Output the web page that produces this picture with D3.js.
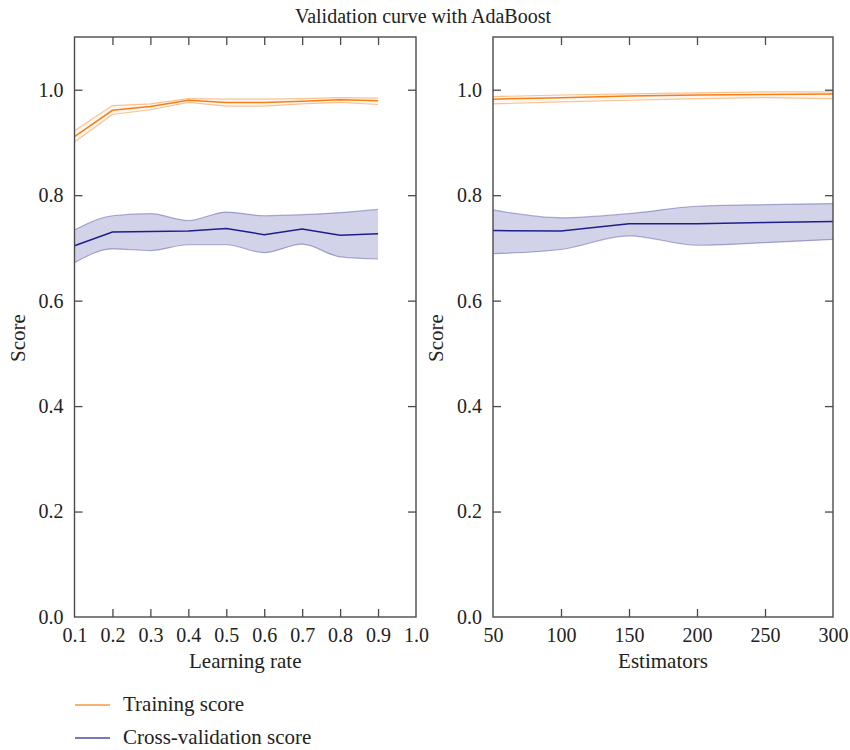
<html>
  <head>
    <style>
      body { margin: 0; background: #fff; }
      text { font-family: "Liberation Serif", "DejaVu Serif", serif; fill: #222; }
      .frame { fill: none; stroke: #4a4a4a; stroke-width: 1.4px; }
      .axis path { display: none; }
      .axis line { stroke: #4a4a4a; stroke-width: 1.3px; }
      .axis text { font-size: 20px; fill: #222; font-family: "Liberation Serif", serif; }
    </style>
  </head>
  <body>
    <script src="https://d3js.org/d3.v7.min.js"></script>
    <script>
    var width = 850, height = 750;

    // learning rate panel
    var lrRates = [0.1, 0.2, 0.3, 0.4, 0.5, 0.6, 0.7, 0.8, 0.9];
    var lrTrainMean = [0.911, 0.961, 0.968, 0.980, 0.976, 0.976, 0.978, 0.981, 0.979];
    var lrTrainUp   = [0.922, 0.970, 0.973, 0.983, 0.982, 0.982, 0.983, 0.985, 0.984];
    var lrTrainLow  = [0.901, 0.953, 0.962, 0.976, 0.969, 0.969, 0.973, 0.976, 0.972];
    var lrCvMean = [0.704, 0.730, 0.731, 0.732, 0.737, 0.725, 0.736, 0.724, 0.727];
    var lrCvUp   = [0.734, 0.761, 0.765, 0.752, 0.768, 0.761, 0.763, 0.767, 0.773];
    var lrCvLow  = [0.672, 0.698, 0.695, 0.706, 0.706, 0.691, 0.707, 0.683, 0.679];

    // estimators panel
    var nEstimators = [50, 100, 150, 200, 250, 300];
    var neTrainMean = [0.982, 0.985, 0.988, 0.990, 0.991, 0.992];
    var neTrainUp   = [0.987, 0.990, 0.992, 0.994, 0.996, 0.996];
    var neTrainLow  = [0.973, 0.977, 0.980, 0.983, 0.985, 0.983];
    var neCvMean = [0.733, 0.732, 0.746, 0.746, 0.748, 0.750];
    var neCvUp   = [0.772, 0.757, 0.765, 0.779, 0.782, 0.784];
    var neCvLow  = [0.689, 0.697, 0.723, 0.705, 0.710, 0.716];

    var lrTicks = [0.1, 0.2, 0.3, 0.4, 0.5, 0.6, 0.7, 0.8, 0.9, 1.0];
    var neTicks = [50, 100, 150, 200, 250, 300];
    var scoreTicks = [0.0, 0.2, 0.4, 0.6, 0.8, 1.0];

    var trainColor = "#f57f17", cvColor = "#1f1f8c";

    var svg = d3.select("body").append("svg")
        .attr("width", width).attr("height", height);

    var plotTop = 37, plotBottom = 617;
    var y = d3.scaleLinear().domain([0, 1.1]).range([plotBottom, plotTop]);

    svg.append("text")
       .attr("x", 423).attr("y", 23)
       .style("text-anchor", "middle").style("font-size", "20px")
       .text("Validation curve with AdaBoost");

    function panel(left, right, xs, xDomain, xTicks, fmt, xLabel,
                   trMean, trUp, trLow, cvMean, cvUp, cvLow) {
      var x = d3.scaleLinear().domain(xDomain).range([left, right]);
      var g = svg.append("g");
      var inner = xTicks.filter(function(t){ return t > xDomain[0] && t < xDomain[1]; });

      // bands
      function band(up, low, color, fillOp, edgeOp, curve) {
        var pts = xs.map(function(v, i){ return {x: v, u: up[i], l: low[i]}; });
        g.append("path").datum(pts)
          .attr("fill", color).attr("fill-opacity", fillOp)
          .attr("d", d3.area().curve(curve)
            .x(function(d){ return x(d.x); })
            .y0(function(d){ return y(d.l); })
            .y1(function(d){ return y(d.u); }));
        [up, low].forEach(function(arr) {
          g.append("path").datum(xs)
            .attr("fill", "none").attr("stroke", color)
            .attr("stroke-opacity", edgeOp).attr("stroke-width", 1.2)
            .attr("d", d3.line().curve(curve)
              .x(function(d){ return x(d); })
              .y(function(d, i){ return y(arr[i]); }));
        });
      }
      function meanLine(arr, color) {
        g.append("path").datum(xs)
          .attr("fill", "none").attr("stroke", color).attr("stroke-width", 1.5)
          .attr("d", d3.line()
            .x(function(d){ return x(d); })
            .y(function(d, i){ return y(arr[i]); }));
      }
      band(trUp, trLow, trainColor, 0.06, 0.45, d3.curveLinear);
      band(cvUp, cvLow, cvColor, 0.2, 0.35, d3.curveMonotoneX);
      meanLine(trMean, trainColor);
      meanLine(cvMean, cvColor);

      // axes with inward ticks on all four sides
      g.append("g").attr("class", "axis")
        .attr("transform", "translate(0," + plotBottom + ")")
        .call(d3.axisBottom(x).tickValues(xTicks).tickFormat(fmt).tickSizeInner(0).tickSizeOuter(0).tickPadding(11));
      g.append("g").attr("class", "axis")
        .attr("transform", "translate(0," + plotBottom + ")")
        .call(d3.axisTop(x).tickValues(inner).tickFormat("").tickSize(8).tickSizeOuter(0));
      g.append("g").attr("class", "axis")
        .attr("transform", "translate(0," + plotTop + ")")
        .call(d3.axisBottom(x).tickValues(inner).tickFormat("").tickSize(8).tickSizeOuter(0));
      g.append("g").attr("class", "axis")
        .attr("transform", "translate(" + left + ",0)")
        .call(d3.axisRight(y).tickValues(scoreTicks.slice(1)).tickFormat("").tickSize(8).tickSizeOuter(0));
      g.append("g").attr("class", "axis")
        .attr("transform", "translate(" + left + ",0)")
        .call(d3.axisLeft(y).tickValues(scoreTicks).tickFormat(d3.format(".1f")).tickSize(0).tickPadding(11));
      g.append("g").attr("class", "axis")
        .attr("transform", "translate(" + right + ",0)")
        .call(d3.axisLeft(y).tickValues(scoreTicks.slice(1)).tickFormat("").tickSize(8).tickSizeOuter(0));

      g.append("rect").attr("class", "frame")
        .attr("x", left).attr("y", plotTop)
        .attr("width", right - left).attr("height", plotBottom - plotTop);

      g.append("text")
        .attr("x", (left + right) / 2).attr("y", 668)
        .style("text-anchor", "middle").style("font-size", "21px")
        .text(xLabel);
      g.append("text")
        .attr("transform", "translate(" + (left - 50) + ",338) rotate(-90)")
        .style("text-anchor", "middle").style("font-size", "21px")
        .text("Score");
    }

    panel(74.5, 416, lrRates, [0.1, 1.0], lrTicks, d3.format(".1f"), "Learning rate",
          lrTrainMean, lrTrainUp, lrTrainLow, lrCvMean, lrCvUp, lrCvLow);
    panel(493, 833, nEstimators, [50, 300], neTicks, d3.format("d"), "Estimators",
          neTrainMean, neTrainUp, neTrainLow, neCvMean, neCvUp, neCvLow);

    // legend
    var legend = svg.append("g");
    var items = [{label: "Training score", color: trainColor}, {label: "Cross-validation score", color: cvColor}];
    items.forEach(function(d, i) {
      var ly = 705 + i * 33;
      legend.append("line")
        .attr("x1", 75).attr("x2", 110).attr("y1", ly).attr("y2", ly)
        .attr("stroke", d.color).attr("stroke-opacity", 0.8).attr("stroke-width", 1.5);
      legend.append("text")
        .attr("x", 123).attr("y", ly + 6)
        .style("font-size", "21px")
        .text(d.label);
    });
    </script>
  </body>
</html>
